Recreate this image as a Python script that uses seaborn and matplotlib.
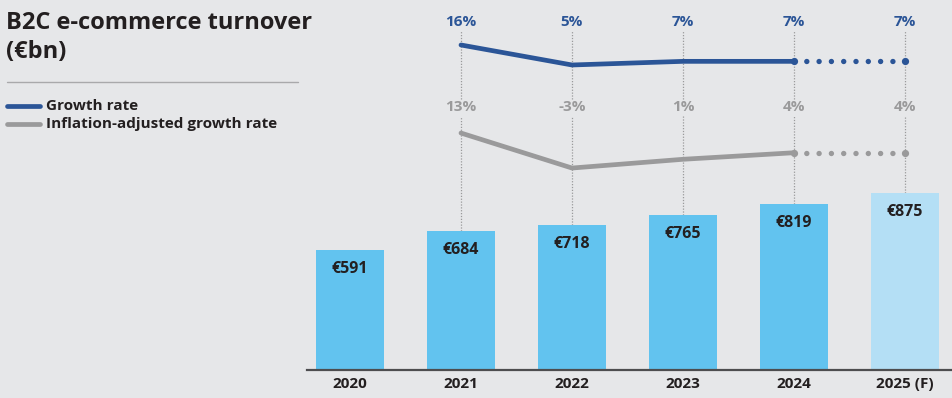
import numpy as np
import pandas as pd
import matplotlib.pyplot as plt
import seaborn as sns
from matplotlib.lines import Line2D

# ── Data ────────────────────────────────────
years = ["2020", "2021", "2022", "2023", "2024", "2025 (F)"]
turnover = [591, 684, 718, 765, 819, 875]
growth = [None, 16, 5, 7, 7, 7]          # growth rate, %
real_growth = [None, 13, -3, 1, 4, 4]    # inflation-adjusted growth rate, %

# ── Styling ─────────────────────────────────
BG = "#e6e7e9"
BAR = "#62c3ef"
BAR_F = "#b4dff5"
BLUE = "#2b5597"
GREY = "#9a9a9b"
DARK = "#231f20"

sns.set_theme(style="white", rc={"figure.facecolor": BG, "axes.facecolor": BG})
plt.rcParams["font.family"] = ["Open Sans", "DejaVu Sans"]

W, H = 952, 398
fig = plt.figure(figsize=(W / 100, H / 100), dpi=100)

# bar axes: baseline at y=370px, spans to the right edge
ax = fig.add_axes([307 / W, (H - 370) / H, (W - 307) / W, 370 / H])
YMAX = 1827


def px2y(p):
    # pixel row (from top of figure) -> bar-axis data value
    return (370 - p) / 370 * YMAX


df = pd.DataFrame({"year": years, "turnover": turnover})
sns.barplot(data=df, x="year", y="turnover", hue="year",
            palette=[BAR] * 5 + [BAR_F], width=0.62, legend=False,
            saturation=1, linewidth=0, edgecolor="none", ax=ax)
ax.set_xlim(-0.387, 5.423)
ax.set_ylim(0, YMAX)
ax.set_xlabel("")
ax.set_ylabel("")
ax.set_yticks([])
for s in ["left", "right", "top"]:
    ax.spines[s].set_visible(False)
ax.spines["bottom"].set_color("#4d4d4f")
ax.spines["bottom"].set_linewidth(1.6)
ax.spines["bottom"].set_zorder(5)
ax.tick_params(axis="x", length=0, pad=5)
ax.set_xticks(range(len(years)))
ax.set_xticklabels(years, fontweight="bold", fontsize=11, color=DARK)

# value labels inside bars
for i, v in enumerate(turnover):
    ax.text(i, v - 19 / 370 * YMAX, f"€{v}", ha="center", va="center",
            fontsize=11.5, fontweight="bold", color=DARK)

# dotted guides + rate labels
for i in range(1, len(years)):
    ax.vlines(i, turnover[i], px2y(116), color=GREY, lw=0.9, linestyle=(0, (1, 1.3)), zorder=0)
    ax.vlines(i, px2y(99), px2y(30), color=GREY, lw=0.9, linestyle=(0, (1, 1.3)), zorder=0)
    ax.text(i, px2y(22), f"{growth[i]}%", ha="center", va="center",
            fontsize=11, fontweight="bold", color=BLUE)
    ax.text(i, px2y(107), f"{real_growth[i]}%", ha="center", va="center",
            fontsize=11, fontweight="bold", color=GREY)

x = np.arange(len(years))


def rate_line(axis, vals, color):
    axis.plot(x[1:5], vals[1:5], color=color, lw=3.4, solid_capstyle="round",
              solid_joinstyle="round")
    # forecast: dotted, with a dot on each end
    axis.plot(x[4:6], vals[4:6], color=color, lw=3.9, linestyle=(0, (0.001, 2.27)),
              dash_capstyle="round", marker="o", markersize=5.2, markeredgewidth=0)


# growth rate line
axg = ax.twinx()
axg.set_ylim(-162.8, 40.75)
axg.set_axis_off()
rate_line(axg, growth, BLUE)

# inflation-adjusted line
axr = ax.twinx()
axr.set_ylim(-95.3, 73.8)
axr.set_axis_off()
rate_line(axr, real_growth, GREY)

# ── Title and legend ────────────────────────
fig.text(6 / W, 1 - 23 / H, "B2C e-commerce turnover", fontsize=17, fontweight="bold",
         color=DARK, va="center", ha="left")
fig.text(6 / W, 1 - 52 / H, "(€bn)", fontsize=17, fontweight="bold",
         color=DARK, va="center", ha="left")
fig.add_artist(Line2D([7 / W, 298 / W], [1 - 82 / H] * 2, color="#a9a9ab", lw=1))

for yy, c, lab in [(106, BLUE, "Growth rate"), (124, GREY, "Inflation-adjusted growth rate")]:
    fig.add_artist(Line2D([7 / W, 40 / W], [1 - yy / H] * 2, color=c, lw=3.4,
                          solid_capstyle="round"))
    fig.text(46 / W, 1 - yy / H, lab, fontsize=11, fontweight="bold", color=DARK,
             va="center", ha="left")

fig.savefig("out.png", dpi=100, facecolor=BG)
